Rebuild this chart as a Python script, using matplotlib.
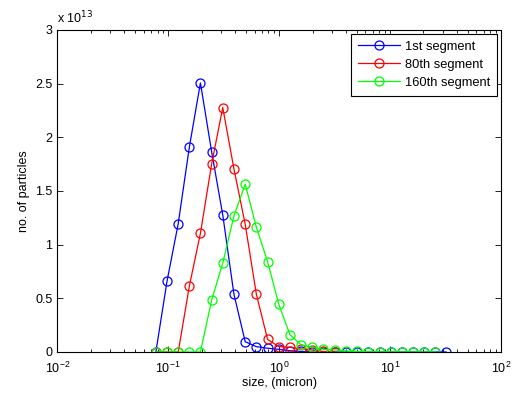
import matplotlib
matplotlib.use("Agg")
import matplotlib.pyplot as plt
from matplotlib.ticker import FuncFormatter, LogLocator, NullFormatter

plt.rcParams['font.family'] = ['Liberation Sans', 'DejaVu Sans']

sizes = [0.0773, 0.0975, 0.123, 0.155, 0.195, 0.246, 0.310, 0.391, 0.494, 0.623,
         0.786, 0.992, 1.25, 1.58, 1.99, 2.51, 3.17, 4.0, 5.04, 6.36,
         8.03, 10.1, 12.8, 16.1, 20.3, 25.6, 32.0]

seg1 = [0.0, 0.66, 1.196, 1.91, 2.507, 1.867, 1.277, 0.538, 0.096, 0.05,
        0.035, 0.025, 0.012, 0.005, 0.002, 0.0, 0.0, 0.0, 0.0, 0.0,
        0.0, 0.0, 0.0, 0.0, 0.0, 0.0, 0.0]
seg80 = [0.0, 0.0, 0.0, 0.615, 1.106, 1.75, 2.277, 1.706, 1.19, 0.538,
         0.118, 0.05, 0.044, 0.028, 0.018, 0.005, 0.003]
seg160 = [0.0, 0.0, 0.0, 0.0, 0.0, 0.482, 0.829, 1.267, 1.563, 1.162,
          0.842, 0.445, 0.161, 0.065, 0.044, 0.025, 0.019, 0.01, 0.005, 0.003,
          0.002, 0.001, 0.001, 0.0, 0.0, 0.0]

labels = ['1st segment', '80th segment', '160th segment']
scale = 1e13

fig = plt.figure(figsize=(5.12, 3.94), dpi=100)
ax = fig.add_axes([0.112, 0.1066, 0.8665, 0.8173])

series = [(seg1, 'blue'), (seg80, 'red'), (seg160, 'lime')]
for (vals, col), lab in zip(series, labels):
    n = len(vals)
    ax.plot(sizes[:n], [v * scale for v in vals], '-o', color=col,
            mfc='none', mec=col, ms=6.5, lw=0.9, mew=0.9, label=lab)

ax.set_xscale('log')
ax.set_xlim(1e-2, 1e2)
ax.set_ylim(0, 3e13)
ax.set_yticks([i * 0.5e13 for i in range(7)])
ax.yaxis.set_major_formatter(FuncFormatter(lambda v, p: '%g' % (v / scale)))
ax.xaxis.set_major_locator(LogLocator(base=10, numticks=10))
ax.xaxis.set_minor_locator(LogLocator(base=10, subs=range(2, 10), numticks=20))
ax.xaxis.set_minor_formatter(NullFormatter())

ax.tick_params(which='both', direction='in', top=True, right=True,
               labelsize=9, width=0.6)
ax.tick_params(which='major', length=4)
ax.tick_params(which='minor', length=2.2)
ax.tick_params(axis='x', which='major', pad=6)
for s in ax.spines.values():
    s.set_linewidth(0.8)

ax.text(0.0, 1.012, r'x 10$^{13}$', transform=ax.transAxes, fontsize=9,
        ha='left', va='bottom')

ax.set_xlabel('size, (micron)', fontsize=9, labelpad=1)
ax.set_ylabel('no. of particles', fontsize=9, labelpad=4)

leg = ax.legend(loc='upper right', fontsize=9.3, fancybox=False,
                edgecolor='black', framealpha=1, borderaxespad=0.3,
                handlelength=3.2, handletextpad=0.4, labelspacing=0.45,
                borderpad=0.55)
leg.get_frame().set_linewidth(0.8)

fig.savefig('out.png', dpi=100)
